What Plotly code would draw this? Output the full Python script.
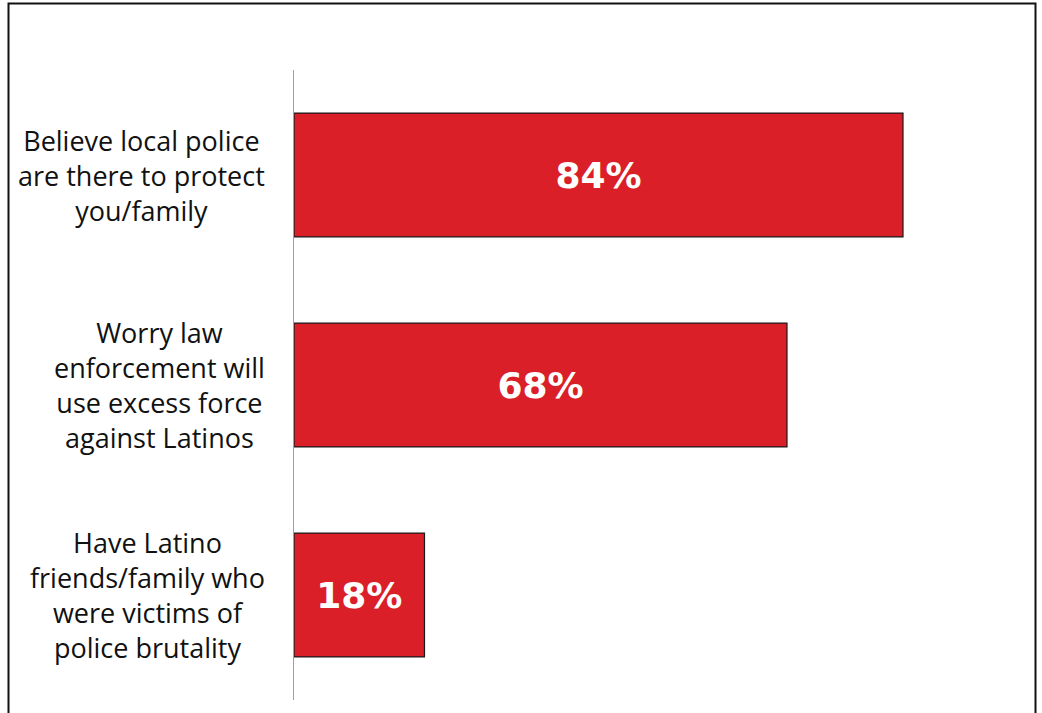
import plotly.graph_objects as go

categories = [
    "Believe local police<br>are there to protect<br>you/family",
    "Worry law<br>enforcement will<br>use excess force<br>against Latinos",
    "Have Latino<br>friends/family who<br>were victims of<br>police brutality",
]
values = [84, 68, 18]
value_labels = ["84%", "68%", "18%"]

W, H = 1042, 713
L, T = 294, 70
PLOT_R, PLOT_B = 1019, 700
R, B = W - PLOT_R, H - PLOT_B

fig = go.Figure()
fig.add_trace(go.Bar(
    y=categories, x=values, orientation="h",
    marker=dict(color="#DA1F28", line=dict(color="#1a1a1a", width=1.2)),
    width=0.59,
    text=value_labels, textposition="inside", insidetextanchor="middle",
    textfont=dict(family="DejaVu Sans, Open Sans, sans-serif", size=36, color="white", weight="bold"),
    constraintext="none", cliponaxis=False, hoverinfo="skip",
))

annotations = []
for c in categories:
    annotations.append(dict(
        x=0, xref="paper", y=c, yref="y", text=c, showarrow=False,
        xanchor="right", yanchor="middle", align="center", xshift=-27,
        font=dict(family="Open Sans, Lato, sans-serif", size=27, color="#111111"),
    ))

pw = PLOT_R - L
ph = PLOT_B - T
fx = lambda px: (px - L) / pw
fy = lambda py: (PLOT_B - py) / ph

fig.update_layout(
    width=W, height=H, margin=dict(l=L, r=R, t=T, b=B),
    paper_bgcolor="white", plot_bgcolor="white", showlegend=False,
    xaxis=dict(range=[0, 100], visible=False, fixedrange=True),
    yaxis=dict(autorange="reversed", showticklabels=False, ticks="",
               showgrid=False, zeroline=False, showline=True,
               linecolor="#A0A0A0", linewidth=1.5),
    annotations=annotations,
    shapes=[dict(type="rect", xref="paper", yref="paper",
                 x0=fx(8.5), x1=fx(1035.5), y0=fy(3.5), y1=fy(740),
                 line=dict(color="#111111", width=2), layer="above")],
)

fig.write_html(
    "out.html",
    config={"displayModeBar": False, "staticPlot": True},
    post_script="document.body.style.margin='0';document.body.style.overflow='hidden';",
)
